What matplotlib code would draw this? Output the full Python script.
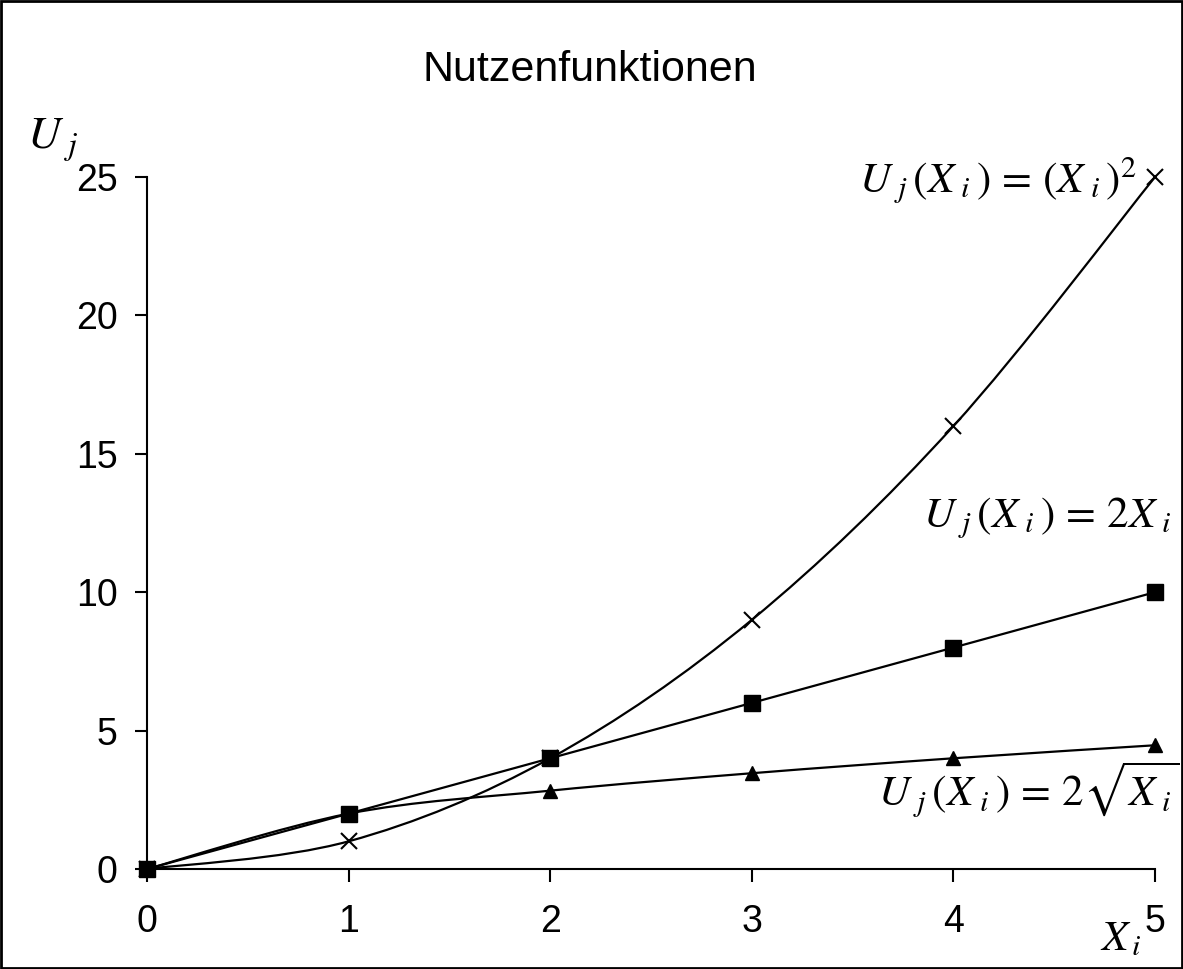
import matplotlib
matplotlib.use("Agg")
import matplotlib.pyplot as plt
import numpy as np
from matplotlib.path import Path
from matplotlib.patches import PathPatch, Rectangle

plt.rcParams['font.family'] = ['Liberation Sans', 'DejaVu Sans']
plt.rcParams['mathtext.fontset'] = 'stix'

# Daten
x_vals = [0, 1, 2, 3, 4, 5]
u_quad = [0, 1, 4, 9, 16, 25]
u_lin = [0, 2, 4, 6, 8, 10]
u_sqrt = [0, 2, 2.83, 3.46, 4, 4.47]

x_ticks = [0, 1, 2, 3, 4, 5]
y_ticks = [0, 5, 10, 15, 20, 25]


def smooth_path(xs, ys):
    # geglättete Linie wie in Excel (Catmull-Rom als Bezier)
    pts = np.column_stack([xs, ys]).astype(float)
    n = len(pts)
    verts = [pts[0]]
    codes = [Path.MOVETO]
    for i in range(n - 1):
        p_prev = pts[i - 1] if i > 0 else pts[i]
        p_next = pts[i + 2] if i + 2 < n else pts[i + 1]
        c1 = pts[i] + (pts[i + 1] - p_prev) / 6
        c2 = pts[i + 1] - (p_next - pts[i]) / 6
        verts += [c1, c2, pts[i + 1]]
        codes += [Path.CURVE4] * 3
    return Path(verts, codes)


fig = plt.figure(figsize=(11.83, 9.69), dpi=100)
ax = fig.add_axes([147 / 1183, 100 / 969, 1008 / 1183, 692 / 969])

for ys, mk, ms in [(u_quad, 'x', 12), (u_lin, 's', 11), (u_sqrt, '^', 10)]:
    ax.add_patch(PathPatch(smooth_path(x_vals, ys), fill=False, lw=1.6,
                           color='black', clip_on=False))
    ax.plot(x_vals, ys, ls='none', marker=mk, ms=ms, color='black',
            mew=1.5 if mk == 'x' else 1, clip_on=False, zorder=3)

ax.set_xlim(0, 5)
ax.set_ylim(0, 25)
ax.set_xticks(x_ticks)
ax.set_yticks(y_ticks)
ax.tick_params(direction='out', length=9, width=1.5, labelsize=27, colors='black')
ax.tick_params(axis='x', pad=16)
ax.tick_params(axis='y', pad=12)
for s in ['top', 'right']:
    ax.spines[s].set_visible(False)
for s in ['left', 'bottom']:
    ax.spines[s].set_linewidth(1.5)

fig.text(590 / 1183, 1 - 70 / 969, 'Nutzenfunktionen', fontsize=31,
         ha='center', va='center')
fig.text(27 / 1183, 1 - 149 / 969, r'$U_{\ j}$', fontsize=33, ha='left', va='baseline')
fig.text(1137 / 1183, 1 - 192 / 969,
         r'$U_{\ j}\,(X_{\ i}\,)\,=\,\left(X_{\ i}\,\right)^2$', fontsize=31,
         ha='right', va='baseline')
fig.text(1172 / 1183, 1 - 527 / 969, r'$U_{\ j}\,(X_{\ i}\,)\,=\,2X_{\ i}$', fontsize=31,
         ha='right', va='baseline')
fig.text(1180 / 1183, 1 - 805 / 969, r'$U_{\ j}\,(X_{\ i}\,)\,=\,2\sqrt{X_{\ i}}$',
         fontsize=31, ha='right', va='baseline')
fig.text(1100 / 1183, 1 - 950 / 969, r'$X_{\,i}$', fontsize=31, ha='left', va='baseline')

fig.add_artist(Rectangle((0.001, 0.001), 0.998, 0.998, transform=fig.transFigure,
                         fill=False, lw=2, color='black'))

fig.savefig('out.png', dpi=100)
